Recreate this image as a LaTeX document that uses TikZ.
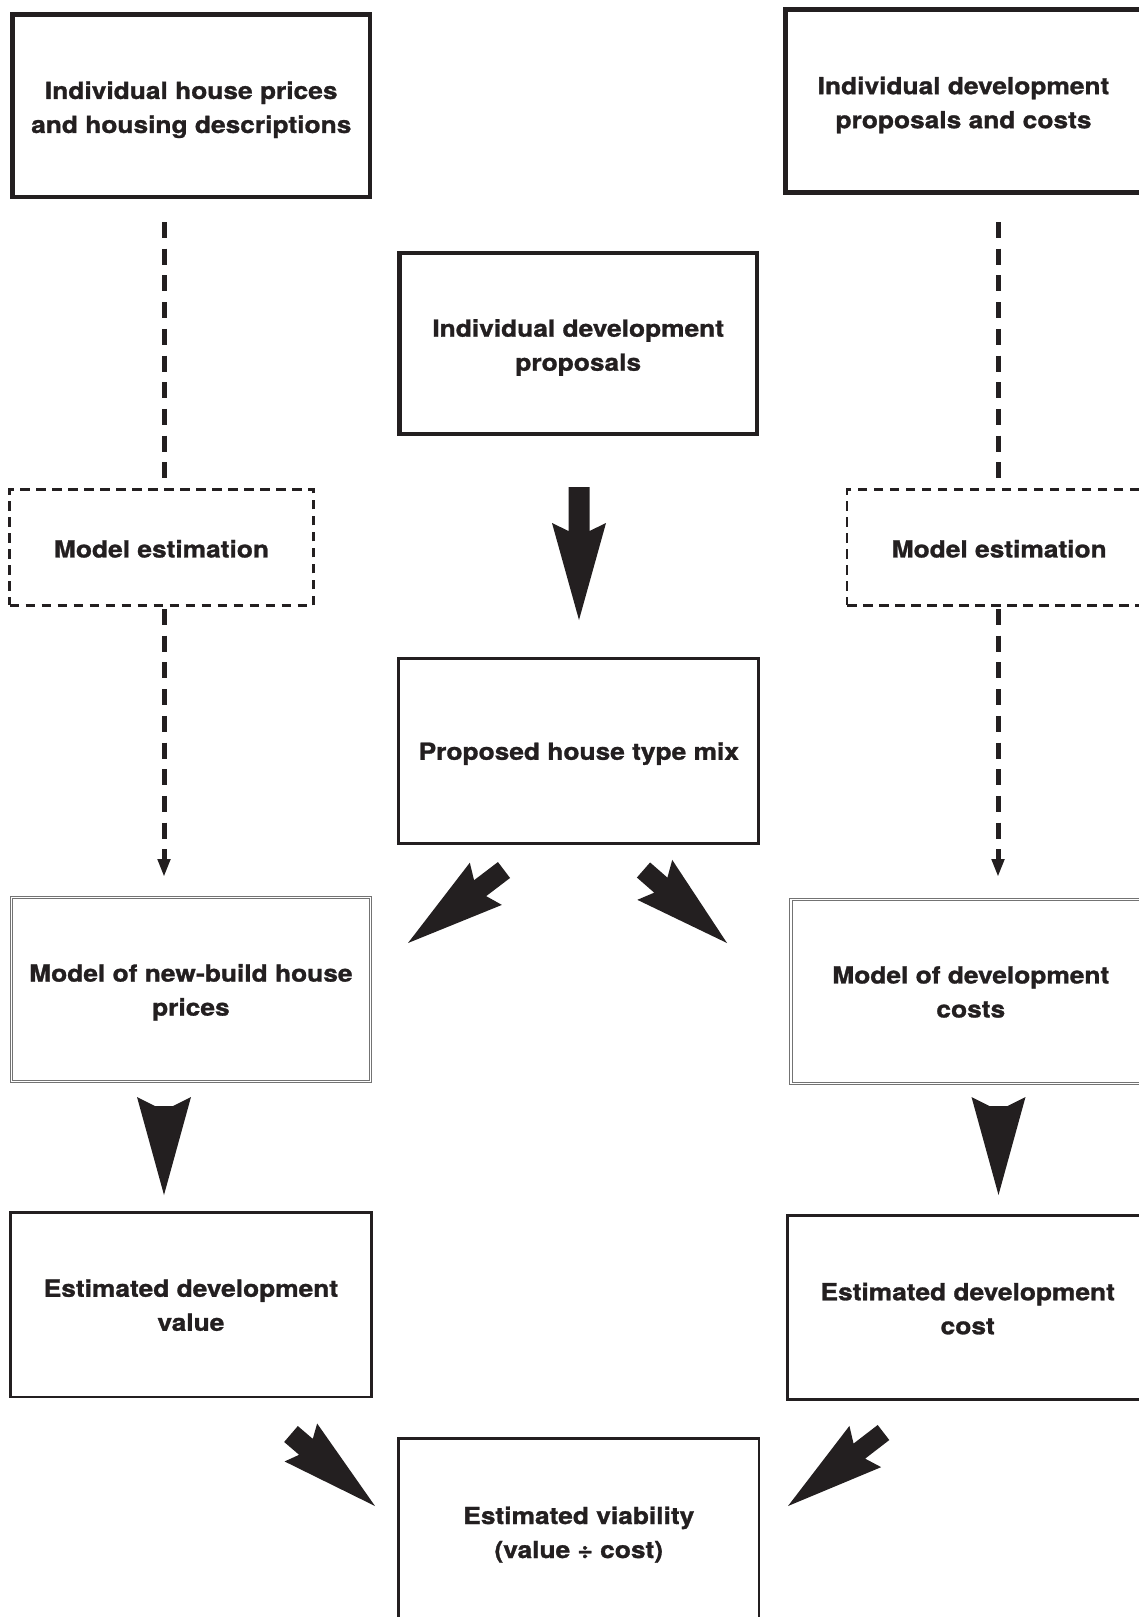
\documentclass[tikz,border=0pt]{standalone}
\usepackage{fontspec}
\newfontfamily\labfont{TeX Gyre Heros}[FakeStretch=1.12,FakeBold=1.2]
\usetikzlibrary{arrows.meta,calc}
\definecolor{ink}{HTML}{231F20}
\tikzset{
  lbl/.style={text=ink, align=center, inner sep=0pt, outer sep=0pt,
    font=\labfont\bfseries\fontsize{23.5}{34}\selectfont},
  boxbase/.style={inner sep=0pt, outer sep=0pt},
  thickbox/.style={boxbase, draw=ink, line width=4.5pt},
  midbox/.style={boxbase, draw=ink, line width=3pt},
  thinbox/.style={boxbase, draw=ink, line width=2.5pt},
  dblbox/.style={boxbase, draw=black!55, line width=1pt, double=white, double distance=1.6pt},
  dashbox/.style={boxbase, draw=ink, line width=2.5pt, dash pattern=on 9.5pt off 6.5pt},
  dashconn/.style={draw=ink, line width=5pt, dash pattern=on 16pt off 10.7pt},
  dashtip/.style={-{Triangle[width=12pt,length=18pt]}},
  arrowfill/.style={fill=ink},
}
\newcommand\fatarrow[6]{%
  \fill[arrowfill] let \p1=(#1), \p2=(#2), \n1={atan2(\y2-\y1,\x2-\x1)} in
    ([shift={(\p1)},rotate=\n1]0pt,#3pt) --
    ([shift={(\p1)},rotate=\n1]#6pt,#3pt) --
    ([shift={(\p1)},rotate=\n1]#5pt,#4pt) --
    (\p2) --
    ([shift={(\p1)},rotate=\n1]#5pt,-#4pt) --
    ([shift={(\p1)},rotate=\n1]#6pt,-#3pt) --
    ([shift={(\p1)},rotate=\n1]0pt,-#3pt) -- cycle;}
\begin{document}
\begin{tikzpicture}[x=1pt,y=-1pt]
\path[use as bounding box, fill=white] (0,0) rectangle (1139,1617);
\clip (0,0) rectangle (1139,1617);

% boxes
\node[thickbox, minimum width=357.5pt, minimum height=182.5pt] (A) at (191.25,105.75) {};
\node[thickbox, minimum width=356pt, minimum height=183pt] (B) at (963.5,101) {};
\node[thickbox, minimum width=357.6pt, minimum height=181pt] (C) at (578.2,343.5) {};
\node[dashbox, minimum width=304pt, minimum height=116pt] (ML) at (161.5,547.3) {};
\node[dashbox, minimum width=304pt, minimum height=116pt] (MR) at (999.2,547.3) {};
\node[midbox, minimum width=360pt, minimum height=184.8pt] (P) at (578.8,751.1) {};
\node[dblbox, minimum width=359.2pt, minimum height=183.8pt] (NB) at (190.9,989.4) {};
\node[dblbox, minimum width=359.2pt, minimum height=183.8pt] (DC) at (970.8,991.5) {};
\node[thinbox, minimum width=360.7pt, minimum height=184.3pt] (EV) at (190.9,1304.6) {};
\node[thinbox, minimum width=360.4pt, minimum height=184.2pt] (EC) at (967.7,1307.6) {};
\node[thinbox, minimum width=360.6pt, minimum height=184.3pt] (V) at (578.8,1530.6) {};

% labels
\node[lbl] (At) at ([yshift=-4pt]A.center) {Individual house prices\\and housing descriptions};
\node[lbl] (Bt) at ([yshift=-4pt]B.center) {Individual development\\proposals and costs};
\node[lbl] (Ct) at ([yshift=-4pt]C.center) {Individual development\\proposals};
\node[lbl] (MLt) at ([yshift=-1.5pt]ML.center) {Model estimation};
\node[lbl] (MRt) at ([yshift=-1.5pt]MR.center) {Model estimation};
\node[lbl] (Pt) at ([yshift=-2.5pt]P.center) {Proposed house type mix};
\node[lbl] (NBt) at ([yshift=-3pt]NB.center) {Model of new-build house\\prices};
\node[lbl] (DCt) at ([yshift=-0.5pt]DC.center) {Model of development\\costs};
\node[lbl] (EVt) at ([yshift=-0.5pt]EV.center) {Estimated development\\value};
\node[lbl] (ECt) at ([yshift=-1pt]EC.center) {Estimated development\\cost};
\node[lbl] (Vt) at ([yshift=-4pt]V.center) {Estimated viability\\(value \char"00F7{} cost)};

% dashed connectors
\coordinate (l1s) at (164,222);  \coordinate (l1e) at (164,480);
\coordinate (l2s) at (164,609);  \coordinate (l2e) at (164,877);
\coordinate (r1s) at (998,222);  \coordinate (r1e) at (998,480);
\coordinate (r2s) at (998,609);  \coordinate (r2e) at (998,877);
\draw[dashconn] (l1s) -- (l1e);
\draw[dashconn, dashtip] (l2s) -- (l2e);
\draw[dashconn] (r1s) -- (r1e);
\draw[dashconn, dashtip] (r2s) -- (r2e);

% fat arrows
\coordinate (a1s) at (579,487);     \coordinate (a1t) at (579,620);
\coordinate (a2s) at (504,870);     \coordinate (a2t) at (408,943);
\coordinate (a3s) at (643.5,870);   \coordinate (a3t) at (727,943);
\coordinate (a4s) at (164,1106);    \coordinate (a4t) at (164,1195);
\coordinate (a5s) at (998.5,1106);  \coordinate (a5t) at (998.5,1195);
\coordinate (a6s) at (291,1434);    \coordinate (a6t) at (375,1506);
\coordinate (a7s) at (883.5,1432.5);\coordinate (a7t) at (788,1506);
\fatarrow{a1s}{a1t}{10.5}{27}{36}{44}
\fatarrow{a2s}{a2t}{10}{26.5}{22.8}{30}
\fatarrow{a3s}{a3t}{10}{26.5}{15}{23}
\fatarrow{a4s}{a4t}{9}{27}{-9}{0}
\fatarrow{a5s}{a5t}{9}{27}{-9}{0}
\fatarrow{a6s}{a6t}{10.5}{25}{13}{19.7}
\fatarrow{a7s}{a7t}{9.5}{26}{23}{30.5}
\end{tikzpicture}
\end{document}
